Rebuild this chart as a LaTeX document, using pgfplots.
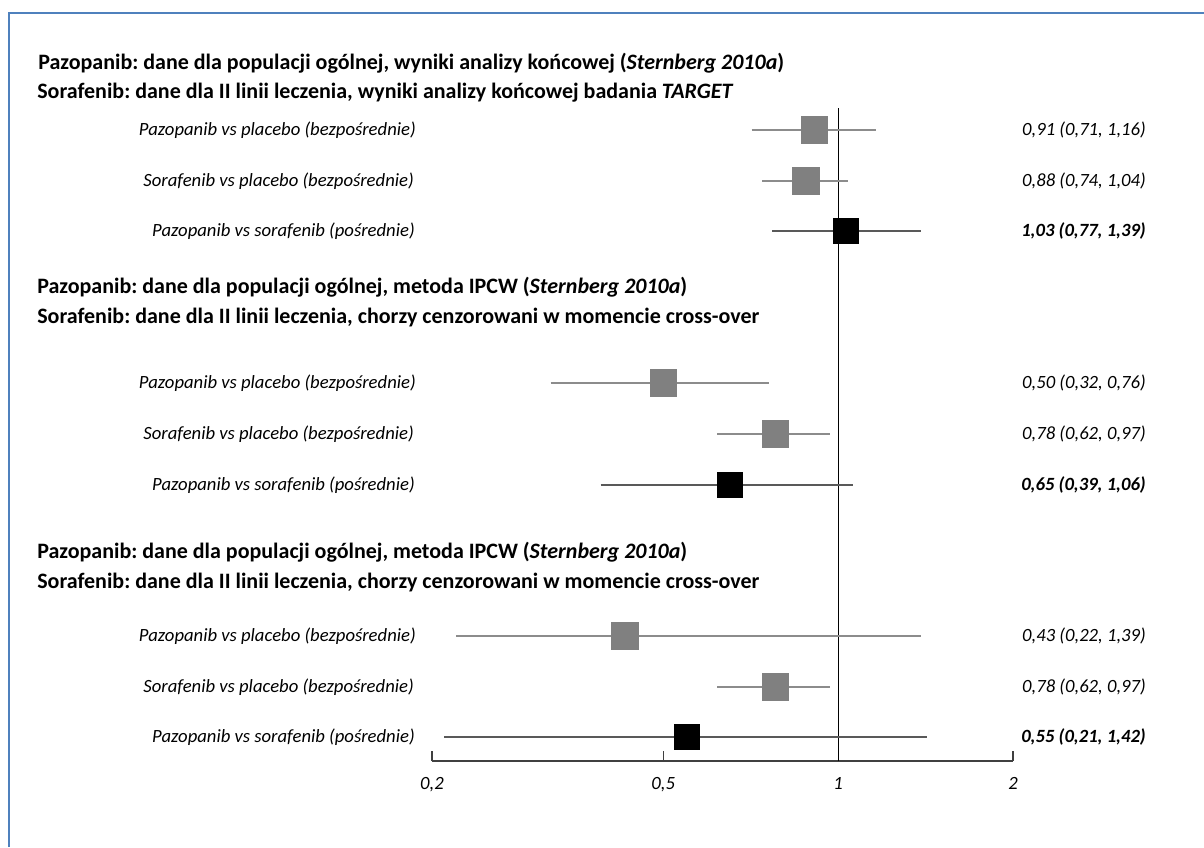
\documentclass[border=0pt]{standalone}
\usepackage{fontspec}
\setmainfont{Carlito}
\usepackage{pgfplots}
\pgfplotsset{compat=1.18}
\definecolor{bord}{RGB}{79,129,189}
\definecolor{sq}{RGB}{128,128,128}
\frenchspacing
\begin{document}
\begin{tikzpicture}
\begin{scope}[x=0.75pt,y=-0.75pt,shift={(0pt,635.25pt)}]
\useasboundingbox (0,0) rectangle (1204,847);
\draw[bord, line width=2pt] (9,847) -- (9,13) -- (1204,13);
\tikzset{hd/.style={anchor=west, inner sep=0pt, font=\bfseries\fontsize{16.5}{19}\selectfont},
  rl/.style={anchor=east, inner sep=0pt, font=\itshape\fontsize{14}{17}\selectfont},
  vl/.style={anchor=east, inner sep=0pt, font=\itshape\fontsize{14}{17}\selectfont},
  vb/.style={anchor=east, inner sep=0pt, font=\bfseries\itshape\fontsize{14}{17}\selectfont}}
% group 1
\node[hd] at (38,63) {Pazopanib: dane dla populacji ogólnej, wyniki analizy końcowej (\textit{Sternberg 2010a})};
\node[hd] at (37,93) {Sorafenib: dane dla II linii leczenia, wyniki analizy końcowej badania \textit{TARGET}};
\node[rl] at (416,130) {Pazopanib vs placebo (bezpośrednie)};
\node[rl] at (414,181) {Sorafenib vs placebo (bezpośrednie)};
\node[rl] at (415,231) {Pazopanib vs sorafenib (pośrednie)};
\node[vl] at (1146,130) {0,91 (0,71, 1,16)};
\node[vl] at (1146,181) {0,88 (0,74, 1,04)};
\node[vb] at (1146,231) {1,03 (0,77, 1,39)};
% group 2
\node[hd] at (37,287) {Pazopanib: dane dla populacji ogólnej, metoda IPCW (\textit{Sternberg 2010a})};
\node[hd] at (37,318) {Sorafenib: dane dla II linii leczenia, chorzy cenzorowani w momencie cross-over};
\node[rl] at (416,383) {Pazopanib vs placebo (bezpośrednie)};
\node[rl] at (414,434) {Sorafenib vs placebo (bezpośrednie)};
\node[rl] at (415,485) {Pazopanib vs sorafenib (pośrednie)};
\node[vl] at (1146,383) {0,50 (0,32, 0,76)};
\node[vl] at (1146,434) {0,78 (0,62, 0,97)};
\node[vb] at (1146,485) {0,65 (0,39, 1,06)};
% group 3
\node[hd] at (37,552) {Pazopanib: dane dla populacji ogólnej, metoda IPCW (\textit{Sternberg 2010a})};
\node[hd] at (37,583) {Sorafenib: dane dla II linii leczenia, chorzy cenzorowani w momencie cross-over};
\node[rl] at (416,636) {Pazopanib vs placebo (bezpośrednie)};
\node[rl] at (414,687) {Sorafenib vs placebo (bezpośrednie)};
\node[rl] at (415,737) {Pazopanib vs sorafenib (pośrednie)};
\node[vl] at (1146,636) {0,43 (0,22, 1,39)};
\node[vl] at (1146,687) {0,78 (0,62, 0,97)};
\node[vb] at (1146,737) {0,55 (0,21, 1,42)};
\end{scope}
\begin{axis}[at={(324pt,64.5pt)}, anchor=south west, scale only axis,
  width=435.75pt, height=495.75pt,
  xmode=log, xmin=0.2, xmax=2, ymin=-761, ymax=-100,
  axis x line*=bottom, axis y line=none,
  x axis line style={-, draw=black!75, line width=0.9pt},
  tick align=inside, major tick length=7.5pt,
  xtick={0.2,0.5,1,2}, xticklabels={0{,}2,0{,}5,1,2},
  xtick style={draw=black!75, line width=0.9pt},
  minor xtick={},
  xticklabel style={font=\itshape\fontsize{14}{17}\selectfont, yshift=-9pt},
  clip=false,
  ci/.style={no marks, draw=black!45, line width=0.9pt},
  cib/.style={no marks, draw=black!65, line width=1.3pt},
  gsq/.style={only marks, mark=square*, mark size=10pt, mark options={fill=sq, draw=sq, line width=0.5pt}},
  bsq/.style={only marks, mark=square*, mark size=9.4pt, mark options={fill=black, draw=black, line width=0.5pt}},
]
\addplot[black, line width=0.8pt] coordinates {(1,-761) (1,-108)};
% CI lines
\addplot[ci] coordinates {(0.71,-130) (1.16,-130)};
\addplot[ci] coordinates {(0.74,-181) (1.04,-181)};
\addplot[cib] coordinates {(0.77,-231) (1.39,-231)};
\addplot[ci] coordinates {(0.32,-383) (0.76,-383)};
\addplot[ci] coordinates {(0.62,-434) (0.97,-434)};
\addplot[cib] coordinates {(0.39,-485) (1.06,-485)};
\addplot[ci] coordinates {(0.22,-636) (1.39,-636)};
\addplot[ci] coordinates {(0.62,-687) (0.97,-687)};
\addplot[cib] coordinates {(0.21,-737) (1.42,-737)};
% point estimates
\addplot[gsq] coordinates {(0.91,-130) (0.88,-181) (0.50,-383) (0.78,-434) (0.43,-636) (0.78,-687)};
\addplot[bsq] coordinates {(1.03,-231) (0.65,-485) (0.55,-737)};
\end{axis}
\end{tikzpicture}
\end{document}
